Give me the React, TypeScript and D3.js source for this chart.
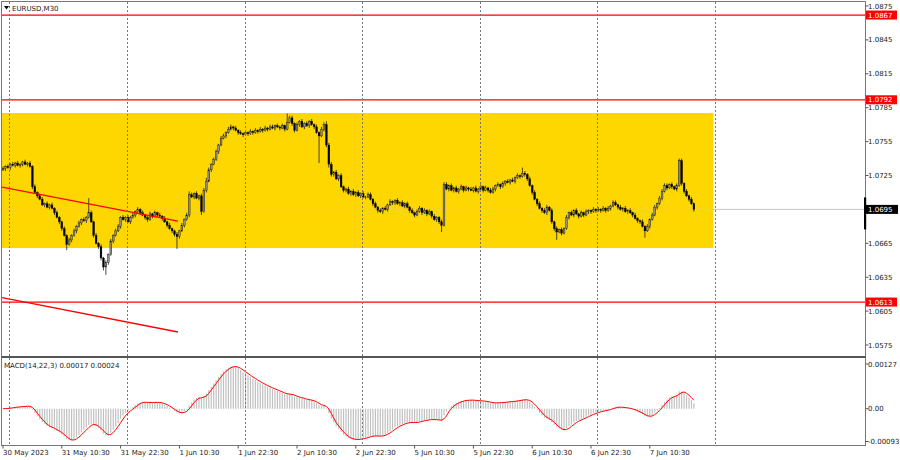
import * as d3 from "d3";

// EURUSD M30 closes, in pips above 1.0000 (731 -> 1.0731). Open = previous close.
const firstOpenPips = 730;
const closePips = [
  731, 733, 732, 735, 734, 736, 734, 735, 737, 735,
  736, 733, 715, 710, 707, 704, 699, 700, 697, 699,
  696, 692, 688, 684, 678, 672, 664, 668, 672, 676,
  680, 683, 686, 685, 688, 692, 684, 672, 665, 662,
  652, 644, 648, 655, 667, 672, 676, 680, 688, 686,
  688, 684, 688, 690, 693, 695, 692, 690, 688, 686,
  691, 689, 692, 690, 689, 687, 684, 681, 678, 676,
  673, 671, 676, 681, 686, 690, 708, 706, 709, 705,
  707, 693, 712, 720, 730, 735, 739, 746, 752, 758,
  760, 763, 766, 768, 767, 765, 763, 762, 761, 763,
  762, 764, 763, 765, 764, 766, 765, 767, 766, 768,
  767, 769, 768, 767, 769, 766, 772, 776, 771, 765,
  770, 773, 768, 771, 769, 773, 770, 768, 763, 760,
  766, 770, 752, 735, 726, 728, 722, 725, 715, 712,
  713, 709, 711, 708, 710, 707, 709, 706, 706, 708,
  704, 700, 697, 694, 693, 696, 695, 699, 702, 701,
  703, 700, 701, 698, 700, 697, 694, 692, 690, 693,
  696, 692, 694, 691, 693, 689, 686, 688, 684, 681,
  717, 713, 716, 712, 714, 711, 713, 715, 712, 714,
  713, 712, 714, 711, 713, 715, 712, 714, 712, 710,
  713, 716, 717, 715, 718, 720, 719, 721, 720, 723,
  725, 724, 727, 726, 722, 716, 710, 704, 700, 696,
  694, 692, 697, 694, 684, 678, 675, 677, 674, 678,
  688, 692, 690, 694, 691, 689, 692, 690, 693, 694,
  693, 695, 694, 695, 694, 696, 694, 696, 698, 701,
  699, 697, 695, 696, 693, 694, 692, 690, 687, 685,
  684, 680, 676, 680, 686, 690, 697, 700, 705, 711,
  716, 714, 717, 715, 713, 716, 738, 718, 711, 707,
  704, 700, 695,
];

// wick length above / below the body, pips
const upWick = [
  2, 1, 2, 1, 2, 1, 2, 1, 1, 2, 1, 2, 1, 2, 1, 2, 2, 1, 2, 1,
  2, 1, 2, 1, 1, 2, 1, 2, 1, 2, 1, 2, 1, 2, 1, 13, 2, 1, 2, 1,
  2, 1, 2, 1, 2, 1, 2, 2, 1, 2, 1, 2, 1, 2, 1, 2, 1, 2, 1, 1,
  2, 1, 2, 1, 2, 1, 2, 1, 2, 1, 1, 2, 1, 2, 1, 2, 3, 2, 1, 2,
  1, 2, 2, 3, 2, 1, 2, 2, 1, 2, 2, 1, 2, 2, 1, 2, 1, 2, 1, 2,
  1, 2, 1, 2, 1, 2, 1, 2, 1, 2, 2, 1, 2, 1, 2, 1, 8, 2, 2, 1,
  2, 1, 2, 1, 2, 1, 2, 1, 2, 1, 2, 2, 3, 2, 2, 1, 2, 1, 2, 1,
  1, 2, 1, 2, 1, 2, 1, 2, 1, 2, 2, 1, 2, 1, 2, 1, 2, 1, 2, 1,
  1, 2, 1, 2, 1, 2, 1, 2, 1, 2, 2, 1, 2, 1, 2, 1, 2, 1, 1, 2,
  2, 2, 1, 2, 1, 2, 1, 2, 1, 2, 1, 2, 1, 2, 1, 2, 1, 2, 1, 2,
  2, 1, 2, 1, 2, 1, 2, 1, 2, 1, 2, 1, 5, 2, 1, 2, 1, 2, 1, 2,
  1, 2, 2, 1, 2, 1, 2, 1, 2, 1, 2, 1, 2, 1, 2, 1, 2, 1, 2, 1,
  1, 2, 1, 2, 1, 2, 1, 2, 1, 2, 2, 1, 2, 1, 2, 1, 2, 1, 2, 1,
  1, 2, 1, 2, 1, 2, 2, 1, 2, 2, 2, 2, 1, 2, 1, 2, 2, 2, 1, 2,
  1, 2, 1,
];
const downWick = [
  1, 2, 1, 2, 1, 2, 1, 2, 2, 1, 2, 1, 2, 1, 2, 1, 1, 2, 1, 2,
  1, 2, 1, 2, 2, 1, 5, 1, 2, 1, 2, 1, 2, 1, 2, 1, 1, 2, 1, 2,
  2, 3, 7, 2, 1, 2, 1, 1, 2, 1, 2, 1, 2, 1, 2, 1, 2, 1, 2, 2,
  1, 2, 1, 2, 1, 2, 1, 2, 1, 2, 2, 11, 2, 1, 2, 1, 2, 1, 2, 1,
  2, 3, 1, 2, 1, 2, 1, 1, 2, 1, 1, 2, 1, 1, 2, 1, 2, 1, 2, 1,
  2, 1, 2, 1, 2, 1, 2, 1, 2, 1, 1, 2, 1, 2, 1, 2, 1, 1, 2, 2,
  1, 2, 1, 2, 1, 2, 1, 2, 1, 24, 1, 2, 2, 3, 2, 2, 1, 2, 1, 2,
  2, 1, 2, 1, 2, 1, 2, 1, 2, 1, 1, 2, 1, 2, 1, 2, 1, 2, 1, 2,
  2, 1, 2, 1, 2, 1, 2, 1, 2, 1, 1, 2, 1, 2, 1, 2, 1, 2, 2, 6,
  1, 1, 2, 1, 2, 1, 2, 1, 2, 1, 2, 1, 2, 1, 2, 1, 2, 1, 2, 1,
  1, 2, 1, 2, 1, 2, 1, 2, 1, 2, 1, 2, 1, 2, 2, 1, 2, 1, 2, 1,
  2, 1, 2, 1, 2, 2, 7, 1, 2, 1, 1, 2, 1, 2, 1, 2, 1, 2, 1, 2,
  2, 1, 2, 1, 2, 1, 2, 1, 2, 1, 1, 2, 1, 2, 1, 2, 1, 2, 1, 2,
  2, 1, 6, 1, 2, 1, 1, 2, 1, 2, 1, 2, 1, 2, 1, 2, 1, 2, 2, 1,
  2, 1, 2,
];

const priceTicks = [1.0875, 1.0845, 1.0815, 1.0785, 1.0755, 1.0725, 1.0695, 1.0665, 1.0635, 1.0605, 1.0575];
const levelPrices = [1.0867, 1.0792, 1.0613];
const zonePrices = [1.07803, 1.06608];
const zoneBars = [-1.5, 290];
const currentPrice = 1.0695;
// two parallel trend lines: [bar, price] end points
const trendUpper = [[-0.4, 1.07148], [71.4, 1.06847]];
const trendLower = [[-0.4, 1.0617], [71.4, 1.05865]];

const timeLabels = ["30 May 2023", "31 May 10:30", "31 May 22:30", "1 Jun 10:30", "1 Jun 22:30", "2 Jun 10:30",
  "2 Jun 22:30", "5 Jun 10:30", "5 Jun 22:30", "6 Jun 10:30", "6 Jun 22:30", "7 Jun 10:30"];
const timeLabelBars = [0, 24, 48, 72, 96, 120, 144, 168, 192, 216, 240, 264];
const gridBars = [2.6, 50.6, 98.6, 146.6, 194.6, 242.6, 290.6];

const macdTicks = [0.00127, 0, -0.00093];
const macdTickLabels = ["0.00127", "0.00", "-0.00093"];
const macdTitle = "MACD(14,22,3) 0.00017 0.00024";

const FONT = "DejaVu Sans";

export default function App() {
  const left = 1.5;
  const axisX = 865.5;
  const priceBottom = 357;
  const macdTop = 358.5;
  const macdBottom = 445.5;

  const x = d3.scaleLinear().domain([0, closePips.length - 1]).range([3, 693.9]);
  const y = d3.scaleLinear().domain([1.0575, 1.0875]).range([345, 6]);
  const ym = d3.scaleLinear().domain([-0.00093, 0.00127]).range([441.5, 364]);

  const bars = closePips.map((c, i) => {
    const open = 1 + (i === 0 ? firstOpenPips : closePips[i - 1]) / 10000;
    const close = 1 + c / 10000;
    const high = Math.max(open, close) + upWick[i] / 10000;
    const low = Math.min(open, close) - downWick[i] / 10000;
    return { i, open, close, high, low };
  });

  // MACD(14,22,3): main = EMA14 - EMA22, signal = SMA3 of main
  const closes = bars.map((b) => b.close);
  const ema = (period: number) => {
    const k = 2 / (period + 1);
    let e = closes[0];
    return closes.map((c) => (e = e + k * (c - e)));
  };
  const e14 = ema(14);
  const e22 = ema(22);
  const main = closes.map((_, i) => e14[i] - e22[i]);
  const signal = main.map((_, i) => {
    const s = main.slice(Math.max(0, i - 2), i + 1);
    return d3.mean(s) as number;
  });

  const signalPath = d3
    .line<number>()
    .x((_, i) => x(i))
    .y((d) => ym(d))(signal) as string;

  const trendPath = (pts: number[][]) =>
    d3
      .line<number[]>()
      .x((d) => x(d[0]))
      .y((d) => y(d[1]))(pts) as string;

  return (
    <div style={{ position: "absolute", left: 0, top: 0 }}>
      <svg width={900} height={460} style={{ display: "block", background: "#fff" }} fontFamily={FONT}>
        <defs>
          <clipPath id="pclip">
            <rect x={left + 0.5} y={2} width={axisX - left - 1} height={priceBottom - 3} />
          </clipPath>
          <clipPath id="mclip">
            <rect x={left + 0.5} y={macdTop + 1} width={axisX - left - 1} height={macdBottom - macdTop - 1.5} />
          </clipPath>
        </defs>

        {/* price panel */}
        <g clipPath="url(#pclip)">
          <rect
            x={x(zoneBars[0])}
            y={y(zonePrices[0])}
            width={x(zoneBars[1]) - x(zoneBars[0])}
            height={y(zonePrices[1]) - y(zonePrices[0])}
            fill="#ffd700"
          />
          <line x1={left} x2={axisX} y1={y(currentPrice)} y2={y(currentPrice)} stroke="#c8c8c8" strokeWidth={1} />
          {levelPrices.map((p) => (
            <line key={p} x1={left} x2={axisX} y1={y(p)} y2={y(p)} stroke="#ff0000" strokeWidth={1.3} />
          ))}
          {bars.map((b) => {
            const cx = x(b.i);
            const top = y(Math.max(b.open, b.close));
            const h = Math.max(0.8, y(Math.min(b.open, b.close)) - top);
            const bull = b.close >= b.open;
            return (
              <g key={b.i}>
                <line x1={cx} x2={cx} y1={y(b.high)} y2={y(b.low)} stroke="#000" strokeWidth={0.7} />
                <rect
                  x={cx - 0.9}
                  y={top}
                  width={1.8}
                  height={h}
                  fill={bull ? "#8f8f8f" : "#000"}
                  stroke="#000"
                  strokeWidth={0.35}
                />
              </g>
            );
          })}
          <path d={trendPath(trendUpper)} stroke="#ff0000" strokeWidth={1.3} fill="none" />
          <path d={trendPath(trendLower)} stroke="#ff0000" strokeWidth={1.3} fill="none" />
        </g>

        {/* MACD panel */}
        <g clipPath="url(#mclip)">
          {main.map((v, i) => (
            <rect
              key={i}
              x={x(i) - 0.6}
              y={Math.min(ym(0), ym(v))}
              width={1.2}
              height={Math.abs(ym(v) - ym(0))}
              fill="#c0c0c0"
            />
          ))}
          <path d={signalPath} stroke="#ff0000" strokeWidth={1} fill="none" />
        </g>

        {/* vertical grid */}
        {gridBars.map((g) => (
          <line
            key={g}
            x1={Math.round(x(g)) + 0.5}
            x2={Math.round(x(g)) + 0.5}
            y1={2}
            y2={macdBottom}
            stroke="#777"
            strokeWidth={1}
            strokeDasharray="2,2"
          />
        ))}

        {/* frames */}
        <rect x={left} y={1.5} width={axisX - left} height={macdBottom - 1.5} fill="none" stroke="#777" strokeWidth={1} />
        <line x1={left} x2={axisX} y1={priceBottom} y2={priceBottom} stroke="#555" strokeWidth={2} />

        {/* title */}
        <path d="M4,6 L9,6 L6.5,9.5 Z" fill="#000" />
        <text x={12} y={11} fontSize={7} fill="#222">EURUSD,M30</text>
        <text x={4} y={368} fontSize={7} fill="#222">{macdTitle}</text>

        {/* price axis */}
        {priceTicks.map((p) => (
          <g key={p}>
            <line x1={axisX} x2={axisX + 3} y1={y(p)} y2={y(p)} stroke="#555" />
            <text x={868} y={y(p) + 2.5} fontSize={7} fill="#222">{d3.format(".4f")(p)}</text>
          </g>
        ))}
        {levelPrices.map((p) => (
          <g key={p}>
            <rect x={866} y={y(p) - 4.5} width={31} height={9} fill="#ff0000" />
            <text x={868} y={y(p) + 2.5} fontSize={7} fill="#fff">{d3.format(".4f")(p)}</text>
          </g>
        ))}
        <rect x={866} y={y(currentPrice) - 4.5} width={32} height={9} fill="#000" />
        <text x={868} y={y(currentPrice) + 2.5} fontSize={7} fill="#fff">{d3.format(".4f")(currentPrice)}</text>
        <rect x={864} y={y(currentPrice) - 12} width={2.2} height={32} fill="#000" />

        {/* MACD axis */}
        {macdTicks.map((m, i) => (
          <g key={m}>
            <line x1={axisX} x2={axisX + 3} y1={ym(m)} y2={ym(m)} stroke="#555" />
            <text x={868} y={ym(m) + 2.5} fontSize={7} fill="#222">{macdTickLabels[i]}</text>
          </g>
        ))}

        {/* time axis */}
        {timeLabels.map((t, i) => (
          <g key={t}>
            <line x1={x(timeLabelBars[i])} x2={x(timeLabelBars[i])} y1={macdBottom} y2={macdBottom + 3} stroke="#555" />
            <text x={x(timeLabelBars[i])} y={455} fontSize={7} fill="#222">{t}</text>
          </g>
        ))}
      </svg>
    </div>
  );
}
